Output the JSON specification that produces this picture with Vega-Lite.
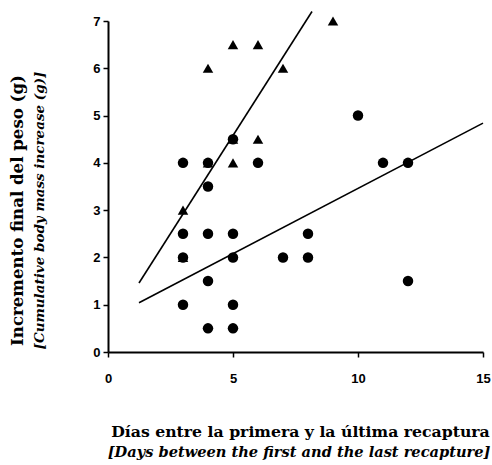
{
  "$schema": "https://vega.github.io/schema/vega-lite/v6.json",
  "background": "white",
  "padding": {"left": 9, "top": 8, "right": 5, "bottom": 3},
  "config": {"view": {"stroke": null}},
  "title": {
    "text": "[Days between the first and the last recapture]",
    "orient": "bottom",
    "anchor": "start",
    "font": "DejaVu Serif",
    "fontSize": 14.6,
    "fontStyle": "italic",
    "fontWeight": "bold",
    "color": "black",
    "offset": 6,
    "dx": 98
  },
  "vconcat": [
    {
      "width": 375,
      "height": 331,
      "title": {
        "text": "Incremento final del peso (g)",
        "subtitle": "[Cumulative body mass increase (g)]",
        "orient": "left",
        "frame": "group",
        "dx": -24,
        "font": "DejaVu Serif",
        "fontSize": 16.6,
        "fontWeight": "bold",
        "color": "black",
        "subtitleFont": "DejaVu Serif",
        "subtitleFontSize": 13.5,
        "subtitleFontStyle": "italic",
        "subtitleFontWeight": "bold",
        "subtitleColor": "black",
        "subtitlePadding": 7,
        "offset": 46
      },
      "layer": [
        {
          "data": {"values": [
            {"x": 1.24, "y": 1.46, "line": "a"},
            {"x": 8.16, "y": 7.2, "line": "a"},
            {"x": 1.24, "y": 1.04, "line": "b"},
            {"x": 15, "y": 4.84, "line": "b"}
          ]},
          "mark": {"type": "line", "color": "black", "strokeWidth": 1.6, "clip": false},
          "encoding": {
            "x": {"field": "x", "type": "quantitative"},
            "y": {"field": "y", "type": "quantitative"},
            "detail": {"field": "line"}
          }
        },
        {
          "data": {"values": [
            {"x": 3, "y": 4, "group": "circle"},
            {"x": 3, "y": 2.5, "group": "circle"},
            {"x": 3, "y": 2, "group": "circle"},
            {"x": 3, "y": 1, "group": "circle"},
            {"x": 4, "y": 4, "group": "circle"},
            {"x": 4, "y": 3.5, "group": "circle"},
            {"x": 4, "y": 2.5, "group": "circle"},
            {"x": 4, "y": 1.5, "group": "circle"},
            {"x": 4, "y": 0.5, "group": "circle"},
            {"x": 5, "y": 4.5, "group": "circle"},
            {"x": 5, "y": 2.5, "group": "circle"},
            {"x": 5, "y": 2, "group": "circle"},
            {"x": 5, "y": 1, "group": "circle"},
            {"x": 5, "y": 0.5, "group": "circle"},
            {"x": 6, "y": 4, "group": "circle"},
            {"x": 7, "y": 2, "group": "circle"},
            {"x": 8, "y": 2.5, "group": "circle"},
            {"x": 8, "y": 2, "group": "circle"},
            {"x": 10, "y": 5, "group": "circle"},
            {"x": 11, "y": 4, "group": "circle"},
            {"x": 12, "y": 4, "group": "circle"},
            {"x": 12, "y": 1.5, "group": "circle"},
            {"x": 3, "y": 3, "group": "triangle"},
            {"x": 3, "y": 2, "group": "triangle"},
            {"x": 4, "y": 4, "group": "triangle"},
            {"x": 4, "y": 6, "group": "triangle"},
            {"x": 5, "y": 6.5, "group": "triangle"},
            {"x": 5, "y": 4.5, "group": "triangle"},
            {"x": 5, "y": 4, "group": "triangle"},
            {"x": 6, "y": 6.5, "group": "triangle"},
            {"x": 6, "y": 4.5, "group": "triangle"},
            {"x": 7, "y": 6, "group": "triangle"},
            {"x": 9, "y": 7, "group": "triangle"}
          ]},
          "mark": {"type": "point", "filled": true, "color": "black", "opacity": 1, "size": 110, "clip": false},
          "encoding": {
            "x": {
              "field": "x", "type": "quantitative",
              "scale": {"domain": [0, 15], "nice": false},
              "axis": {
                "title": "Días entre la primera y la última recaptura",
                "titleFont": "DejaVu Serif", "titleFontSize": 15.7, "titleFontWeight": "bold", "titleColor": "black",
                "titlePadding": 39,
                "titleX": 192,
                "values": [0, 5, 10, 15],
                "grid": false, "domainColor": "black", "domainWidth": 2,
                "tickColor": "black", "tickWidth": 1.5, "tickSize": 5,
                "labelFont": "Liberation Sans", "labelFontWeight": "bold", "labelFontSize": 13, "labelColor": "black",
                "labelPadding": 15, "labelFlush": false
              }
            },
            "y": {
              "field": "y", "type": "quantitative",
              "scale": {"domain": [0, 7], "nice": false},
              "axis": {
                "title": null,
                "values": [0, 1, 2, 3, 4, 5, 6, 7],
                "grid": false, "domainColor": "black", "domainWidth": 2,
                "tickColor": "black", "tickWidth": 1.5, "tickSize": 5,
                "labelFont": "Liberation Sans", "labelFontWeight": "bold", "labelFontSize": 13, "labelColor": "black",
                "labelPadding": 3
              }
            },
            "shape": {
              "field": "group", "type": "nominal",
              "scale": {"domain": ["circle", "triangle"], "range": ["circle", "triangle-up"]},
              "legend": null
            }
          }
        }
      ]
    }
  ]
}
